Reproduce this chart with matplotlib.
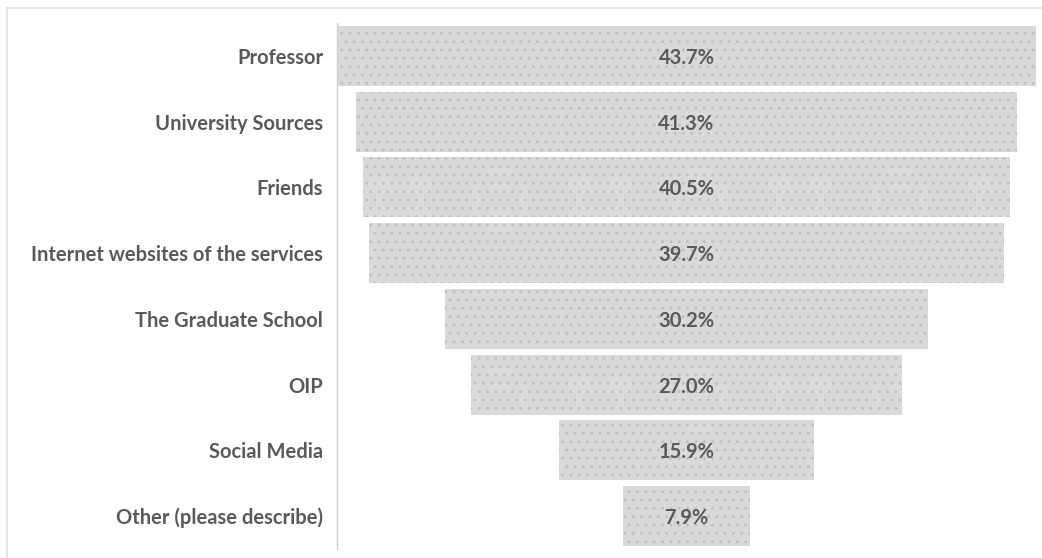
import matplotlib
matplotlib.use("Agg")
import matplotlib.pyplot as plt
from matplotlib.lines import Line2D

categories = [
    "Professor",
    "University Sources",
    "Friends",
    "Internet websites of the services",
    "The Graduate School",
    "OIP",
    "Social Media",
    "Other (please describe)",
]
values = [43.7, 41.3, 40.5, 39.7, 30.2, 27.0, 15.9, 7.9]

plt.rcParams["font.family"] = ["Lato", "DejaVu Sans"]
plt.rcParams["hatch.linewidth"] = 0.9

W, H = 1042, 558
fig = plt.figure(figsize=(W / 100, H / 100), dpi=100)
ax = fig.add_axes([337 / W, 1 - 549 / H, (1036 - 337) / W, (549 - 23) / H])

vmax = max(values)
ypos = list(range(len(categories)))
lefts = [(vmax - v) / 2 for v in values]

ax.barh(ypos, values, left=lefts, height=0.91, color="#d9d9d9",
        edgecolor="#bfbfbf", linewidth=0, hatch="..")

for y, v, l in zip(ypos, values, lefts):
    ax.text(l + v / 2, y + 0.03, f"{v:.1f}%", ha="center", va="center",
            fontsize=14.5, fontweight="bold", color="#595959")

ax.set_xlim(0, vmax)
ax.set_ylim(len(categories) - 0.5, -0.5)
ax.set_yticks(ypos)
ax.set_yticklabels(categories, fontsize=14.5, fontweight="bold", color="#595959")
for lab in ax.get_yticklabels():
    lab.set_y(lab.get_position()[1])
ax.tick_params(axis="y", length=0, pad=10)
ax.set_xticks([])
for s in ["top", "right", "bottom"]:
    ax.spines[s].set_visible(False)
ax.spines["left"].set_color("#d0d0d0")
ax.spines["left"].set_linewidth(1.0)

# outer chart frame
fig.add_artist(Line2D([7 / W, 7 / W], [0, 1 - 8 / H], transform=fig.transFigure,
                      color="#e0e0e0", lw=1.2))
fig.add_artist(Line2D([7 / W, 1], [1 - 8 / H, 1 - 8 / H], transform=fig.transFigure,
                      color="#e0e0e0", lw=1.2))

fig.savefig("out.png", dpi=100, facecolor="white")
